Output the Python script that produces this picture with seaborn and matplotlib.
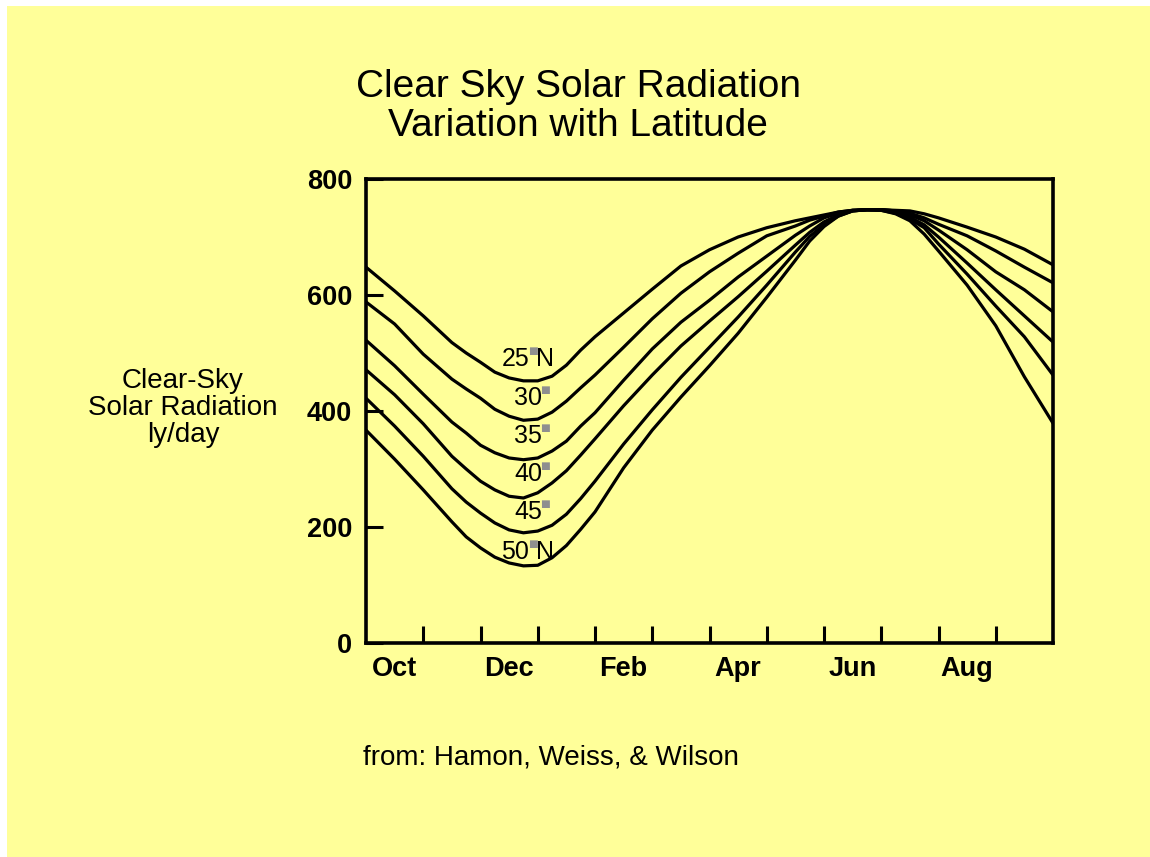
import numpy as np
import pandas as pd
import matplotlib
matplotlib.use("Agg")
import matplotlib.pyplot as plt
from matplotlib.patches import Rectangle
import seaborn as sns

# ---- data ----
months = [0, 0.5, 1, 1.5, 1.75, 2, 2.25, 2.5, 2.75, 3, 3.25, 3.5, 3.75, 4,
          4.5, 5, 5.5, 6, 6.5, 7, 7.5, 7.75, 8, 8.25, 8.5, 8.75, 9, 9.25,
          9.5, 9.75, 10, 10.5, 11, 11.5, 12]   # months since Oct 1
lat25 = [648, 607, 564, 518, 500, 484, 467, 457, 452, 452, 460, 479, 505, 528,
         569, 610, 650, 678, 700, 716, 728, 733, 738, 743, 746, 747, 747, 746,
         745, 740, 733, 717, 700, 679, 652]
lat30 = [588, 550, 498, 455, 438, 422, 403, 391, 384, 386, 398, 417, 440, 462,
         510, 559, 603, 640, 672, 702, 719, 729, 736, 743, 746, 747, 747, 745,
         741, 733, 722, 702, 676, 648, 621]
lat35 = [522, 478, 429, 381, 362, 341, 328, 319, 316, 319, 331, 348, 374, 397,
         453, 507, 553, 591, 631, 667, 703, 719, 733, 741, 746, 747, 747, 745,
         738, 728, 712, 678, 640, 609, 571]
lat40 = [471, 428, 378, 322, 300, 279, 264, 253, 250, 259, 276, 297, 324, 352,
         409, 462, 512, 555, 597, 641, 686, 708, 726, 738, 745, 747, 747, 743,
         734, 721, 700, 655, 609, 564, 519]
lat45 = [422, 374, 322, 266, 243, 224, 207, 195, 190, 193, 203, 222, 249, 279,
         343, 402, 458, 510, 562, 617, 674, 701, 721, 736, 745, 747, 746, 741,
         731, 716, 688, 636, 581, 528, 462]
lat50 = [367, 317, 264, 209, 183, 164, 148, 138, 133, 134, 147, 168, 196, 226,
         302, 367, 424, 478, 534, 596, 660, 693, 718, 736, 745, 747, 746, 740,
         728, 705, 676, 617, 547, 459, 379]

latitudes = ["25", "30", "35", "40", "45", "50"]
series = [lat25, lat30, lat35, lat40, lat45, lat50]
label_y = [490, 422, 357, 291, 226, 157]          # label centres (data units)
month_labels = ["Oct", "Dec", "Feb", "Apr", "Jun", "Aug"]
month_label_pos = [0.5, 2.5, 4.5, 6.5, 8.5, 10.5]
month_ticks = list(range(1, 12))
y_ticks = [0, 200, 400, 600, 800]

title_lines = ["Clear Sky Solar Radiation", "Variation with Latitude"]
ylabel_lines = ["Clear-Sky", "Solar Radiation", "ly/day"]
source = "from: Hamon, Weiss, & Wilson"

# ---- style ----
YELLOW = "#FFFF99"
sns.set_style("ticks")
plt.rcParams["font.family"] = ["Liberation Sans", "DejaVu Sans"]
plt.rcParams["text.color"] = "black"
plt.rcParams["xtick.color"] = "black"
plt.rcParams["ytick.color"] = "black"
plt.rcParams["axes.edgecolor"] = "black"

W, H = 1150, 857
fig = plt.figure(figsize=(W / 100, H / 100), dpi=100)
fig.patch.set_facecolor("white")
fig.add_artist(Rectangle((7 / W, 0), 1 - 7 / W, 1 - 6 / H, transform=fig.transFigure,
                         facecolor=YELLOW, edgecolor="none", zorder=-10))

ax = fig.add_axes([366 / W, 1 - 643 / H, (1053 - 366) / W, (643 - 179) / H])
ax.set_facecolor(YELLOW)

df = pd.concat([pd.DataFrame({"month": months, "value": s, "lat": lat})
                for lat, s in zip(latitudes, series)], ignore_index=True)
sns.lineplot(data=df, x="month", y="value", hue="lat", palette=["black"] * 6,
             legend=False, linewidth=2.3, ax=ax, sort=True, estimator=None)

ax.set_xlim(0, 12)
ax.set_ylim(0, 800)
ax.set_xlabel("")
ax.set_ylabel("")
for sp in ax.spines.values():
    sp.set_visible(True)
    sp.set_linewidth(2.6)
    sp.set_color("black")

ax.set_yticks(y_ticks)
ax.set_yticklabels([str(v) for v in y_ticks], fontsize=19.5, fontweight="bold", color="black")
ax.tick_params(axis="y", direction="in", length=12, width=2.2, pad=10, left=True, right=False,
               colors="black")

ax.set_xticks(month_ticks)
ax.set_xticklabels([""] * len(month_ticks))
ax.set_xticks(month_label_pos, minor=True)
ax.set_xticklabels(month_labels, minor=True, fontsize=19.5, fontweight="bold", color="black")
ax.tick_params(axis="x", which="major", direction="in", length=12, width=2.2, top=False,
               colors="black")
ax.tick_params(axis="x", which="minor", length=0, pad=9)

# latitude labels
for i, (lat, yv) in enumerate(zip(latitudes, label_y)):
    if i in (0, 5):
        ax.text(2.85, yv, lat, ha="right", va="center", fontsize=18, color="black")
        ax.text(2.915, yv + 14, "■", ha="center", va="center", fontsize=7.5,
                color="#8f8f8f", family=["DejaVu Sans"])
        ax.text(2.97, yv, "N", ha="left", va="center", fontsize=18, color="black")
    else:
        ax.text(2.83, yv, lat, ha="center", va="center", fontsize=18, color="black")
        ax.text(3.12, yv + 14, "■", ha="center", va="center", fontsize=7.5,
                color="#8f8f8f", family=["DejaVu Sans"])

# title, y label, source
for line, yb in zip(title_lines, [97, 136]):
    fig.text(578 / W, 1 - yb / H, line, ha="center", va="baseline", fontsize=28, color="black")
for line, yb in zip(ylabel_lines, [388, 415, 442]):
    fig.text(183 / W, 1 - yb / H, line, ha="center", va="baseline", fontsize=20, color="black")
fig.text(363 / W, 1 - 765 / H, source, ha="left", va="baseline", fontsize=20, color="black")

fig.savefig("out.png", dpi=100, facecolor=fig.get_facecolor())
